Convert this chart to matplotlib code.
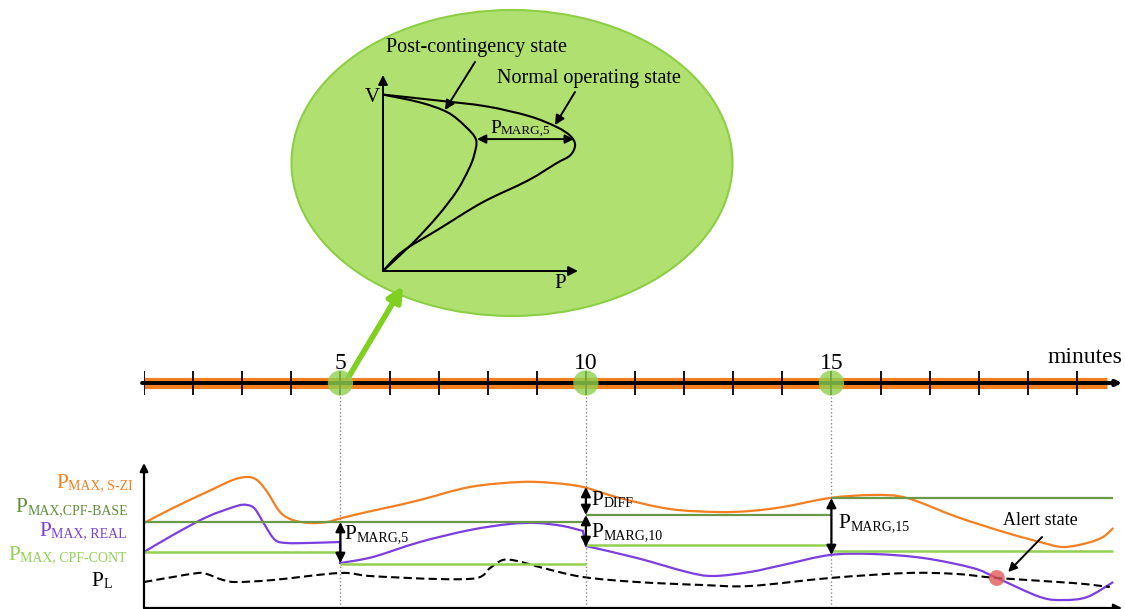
import matplotlib
matplotlib.use('Agg')
import matplotlib.pyplot as plt
from matplotlib.patches import Ellipse, PathPatch
from matplotlib.path import Path

plt.rcParams['font.family'] = ['Liberation Serif', 'DejaVu Serif']

W, H = 1125, 609
fig = plt.figure(figsize=(W / 100, H / 100), dpi=100)

ORANGE = '#f47f20'
PURPLE = '#7b3fe0'
DARK_GREEN = '#6a9a48'
LIGHT_GREEN = '#92d050'
BLOB_GREEN = '#b0e070'


def px_axes(x0, y0, x1, y1):
    # axes box given in picture pixels, top-left origin
    a = fig.add_axes([x0 / W, 1 - y1 / H, (x1 - x0) / W, (y1 - y0) / H])
    a.axis('off')
    return a


# ---------------- data ----------------
# P-V curves of the inset (P and V scaled 0..1 to the inset axes)
pv_post_p = [0, 0.19, 0.33, 0.42, 0.477, 0.467, 0.44, 0.38, 0.28, 0.15, 0]
pv_post_v = [0.90, 0.86, 0.81, 0.74, 0.67, 0.59, 0.52, 0.41, 0.28, 0.14, 0]
pv_norm_p = [0, 0.28, 0.53, 0.75, 0.89, 0.96, 0.985, 0.96, 0.89, 0.74, 0.51, 0.28, 0.10, 0]
pv_norm_v = [0.90, 0.87, 0.84, 0.79, 0.735, 0.69, 0.643, 0.59, 0.55, 0.46, 0.35, 0.21, 0.10, 0]

# timeline
minutes = list(range(1, 21))
snapshots = [5, 10, 15]

# bottom chart: time in minutes, power in arbitrary units
t_szi = [1.00, 1.59, 2.28, 2.81, 3.10, 3.30, 3.51, 3.77, 4.03, 4.38, 4.73, 5.03, 5.54, 6.01,
         6.62, 7.64, 8.66, 9.33, 9.94, 10.69, 11.71, 12.67, 13.34, 14.01, 14.97, 15.85,
         16.54, 17.56, 18.58, 19.25, 19.72, 20.21, 20.53, 20.74]
p_szi = [8.5, 10.0, 11.6, 12.8, 13.1, 12.8, 11.6, 9.6, 8.8, 8.5, 8.6, 9.0, 9.6, 10.1,
         10.8, 12.1, 12.6, 12.5, 12.1, 11.0, 9.9, 9.6, 9.7, 10.1, 11.0, 11.3,
         11.0, 9.1, 7.5, 6.6, 6.1, 6.5, 7.1, 8.0]

t_real = [1.00, 1.59, 2.28, 2.89, 3.10, 3.26, 3.46, 3.67, 3.91, 4.32, 5.00, 5.00, 5.66, 6.62,
          7.64, 8.45, 9.00, 9.53, 9.94, 10.00, 11.04, 12.06, 12.59, 13.34, 14.01, 14.97,
          15.85, 16.87, 17.88, 18.37, 19.25, 19.72, 20.21, 20.74]
p_real = [5.6, 7.3, 9.1, 10.2, 10.3, 9.9, 8.3, 6.8, 6.5, 6.5, 6.6, 4.5, 5.1, 6.6,
          7.8, 8.4, 8.5, 8.2, 7.7, 6.2, 5.0, 3.6, 3.2, 3.6, 4.3, 5.3,
          5.4, 5.0, 4.0, 3.0, 1.1, 0.8, 1.1, 2.6]

t_load = [1.00, 1.59, 2.10, 2.28, 2.61, 2.89, 3.63, 4.99, 5.60, 6.97, 7.78, 8.05, 8.31,
          8.60, 9.13, 9.94, 11.04, 12.38, 13.34, 14.97, 16.54, 17.56, 18.37, 19.92, 20.67]
p_load = [2.6, 3.1, 3.5, 3.4, 2.8, 2.6, 2.8, 3.5, 3.2, 2.9, 3.0, 4.0, 4.8,
          4.7, 4.0, 3.1, 2.6, 2.3, 2.2, 3.0, 3.5, 3.4, 3.0, 2.5, 2.1]

seg_t = [1, 5, 10, 15, 20.74]
base_lvl = [8.6, 8.6, 9.3, 11.0]
cont_lvl = [5.6, 4.4, 6.3, 5.7]

alert_t, alert_p = 18.37, 3.0

# margins: (time, from, to)
margins = [(5, 8.6, 4.5), (10, 12.1, 9.3), (10, 9.3, 6.1), (15, 11.0, 5.3)]
margin_labels = [(5.08, 6.9, 'MARG,5'), (10.12, 10.3, 'DIFF'),
                 (10.12, 7.1, 'MARG,10'), (15.15, 8.0, 'MARG,15')]

left_subs = ['MAX, S-ZI', 'MAX,CPF-BASE', 'MAX, REAL', 'MAX, CPF-CONT', 'L']
left_colors = [ORANGE, '#5f9038', PURPLE, LIGHT_GREEN, 'black']


def sub_label(a, x, y, sub, color, fs=15, sfs=9.5, ha='left'):
    if ha == 'left':
        main = a.text(x, y, 'P', ha='left', va='baseline', fontsize=fs, color=color)
        a.annotate(sub, xy=(1, 0), xycoords=main, ha='left', va='bottom',
                   fontsize=sfs, color=color)
    else:
        s = a.text(x, y, sub, ha='right', va='baseline', fontsize=sfs, color=color)
        a.annotate('P', xy=(0, 0), xycoords=s, ha='right', va='bottom',
                   fontsize=fs, color=color)


def smooth(a, xs, ys, **kw):
    # smooth bezier path running through the read points (catmull-rom)
    pts = list(zip(xs, ys))
    n = len(pts)
    verts, codes = [pts[0]], [Path.MOVETO]
    for i in range(n - 1):
        p0, p1 = pts[max(i - 1, 0)], pts[i]
        p2, p3 = pts[i + 1], pts[min(i + 2, n - 1)]
        c1 = (p1[0] + (p2[0] - p0[0]) / 6, p1[1] + (p2[1] - p0[1]) / 6)
        c2 = (p2[0] - (p3[0] - p1[0]) / 6, p2[1] - (p3[1] - p1[1]) / 6)
        verts += [c1, c2, p2]
        codes += [Path.CURVE4] * 3
    a.add_patch(PathPatch(Path(verts, codes), fill=False, **kw))


def smooth_with_jumps(a, xs, ys, **kw):
    # vertical jumps (same time, two values) drawn straight, the rest smooth
    start = 0
    for i in range(1, len(xs) + 1):
        if i == len(xs) or xs[i] - xs[i - 1] < 0.1:
            smooth(a, xs[start:i], ys[start:i], **kw)
            if i < len(xs):
                a.plot(xs[i - 1:i + 1], ys[i - 1:i + 1], color=kw.get('edgecolor'),
                       lw=kw.get('lw'))
            start = i


arrow_kw = dict(color='black', lw=1.4, shrinkA=0, shrinkB=0)

# ---------------- main canvas (pixel layout) ----------------
ax = fig.add_axes([0, 0, 1, 1])
ax.set_xlim(0, W)
ax.set_ylim(H, 0)
ax.axis('off')

ax.add_patch(Ellipse((512, 163), 441, 306, facecolor=BLOB_GREEN, edgecolor='#8ccf45', lw=1.5))

ax.annotate('', xy=(403, 286), xytext=(345, 383),
            arrowprops=dict(arrowstyle='-|>', color='#80d020', lw=4, mutation_scale=22,
                            shrinkA=0, shrinkB=0))

ax.text(477, 52, 'Post-contingency state', ha='center', va='baseline', fontsize=14.5)
ax.text(497, 83, 'Normal operating state', ha='left', va='baseline', fontsize=14.5)
ax.annotate('', xy=(445, 110), xytext=(475, 62),
            arrowprops=dict(arrowstyle='-|>', mutation_scale=14, **arrow_kw))
ax.annotate('', xy=(555, 125), xytext=(575, 92),
            arrowprops=dict(arrowstyle='-|>', mutation_scale=14, **arrow_kw))
ax.text(372, 102, 'V', ha='center', va='baseline', fontsize=15)
ax.text(560, 288, 'P', ha='center', va='baseline', fontsize=15)
sub_label(ax, 490, 133, 'MARG,5', 'black', fs=14, sfs=9.5)

left_right = [133, 128, 127, 127, 112]
left_base = [488, 513, 536, 560, 587]
for sub, c, xr, yb in zip(left_subs, left_colors, left_right, left_base):
    sub_label(ax, xr, yb + 1.5, sub, c, fs=15.5, sfs=10, ha='right')

# ---------------- P-V inset ----------------
ax_pv = px_axes(383, 75, 578, 271)
ax_pv.set_xlim(0, 1)
ax_pv.set_ylim(0, 1)
smooth(ax_pv, pv_post_p, pv_post_v, edgecolor='black', lw=1.5, clip_on=False)
smooth(ax_pv, pv_norm_p, pv_norm_v, edgecolor='black', lw=1.5, clip_on=False)
ax_pv.annotate('', xy=(0, 1.0), xytext=(0, 0),
               arrowprops=dict(arrowstyle='-|>', mutation_scale=14, **arrow_kw))
ax_pv.annotate('', xy=(1.0, 0), xytext=(0, 0),
               arrowprops=dict(arrowstyle='-|>', mutation_scale=14, **arrow_kw))
ax_pv.annotate('', xy=(0.979, 0.673), xytext=(0.482, 0.673),
               arrowprops=dict(arrowstyle='<|-|>', mutation_scale=13, **arrow_kw))

# ---------------- timeline ----------------
x_end = 1 + (W - 144) / 49.1
ax_t = px_axes(144, 343, W, 423)
ax_t.set_xlim(1, x_end)
ax_t.set_ylim(-40, 40)
ax_t.plot([1, 20.61], [0, 0], color=ORANGE, lw=8, solid_capstyle='butt')
ax_t.annotate('', xy=(20.92, 0), xytext=(0.96, 0),
              arrowprops=dict(arrowstyle='-|>', color='black', lw=2.8, mutation_scale=8,
                              shrinkA=0, shrinkB=0))
ax_t.vlines(minutes, -12, 12, colors='black', lw=1.3)
ax_t.scatter(snapshots, [0] * len(snapshots), s=330, color='#8fd14f', alpha=0.8,
             edgecolors='none', zorder=5)
for m in snapshots:
    ax_t.text(m, 14, str(m), ha='center', va='baseline', fontsize=17)
ax_t.text(20.92, 20, 'minutes', ha='right', va='baseline', fontsize=17)

# ---------------- bottom chart ----------------
ax_b = px_axes(144, 455, W, 608)
ax_b.set_xlim(1, x_end)
ax_b.set_ylim(0, 15.3)

ax_b.vlines(snapshots, 0, 21.3, colors='#8a8a8a', linestyles=':', lw=1, clip_on=False)

for i in range(len(base_lvl)):
    ax_b.hlines(base_lvl[i], seg_t[i], seg_t[i + 1], colors=DARK_GREEN, lw=1.6)
    ax_b.hlines(cont_lvl[i], seg_t[i], seg_t[i + 1], colors=LIGHT_GREEN, lw=1.8)

smooth(ax_b, t_szi, p_szi, edgecolor=ORANGE, lw=1.6)
smooth_with_jumps(ax_b, t_real, p_real, edgecolor=PURPLE, lw=1.6)
smooth(ax_b, t_load, p_load, edgecolor='black', lw=1.5, linestyle=(0, (4, 2)))
ax_b.scatter([alert_t], [alert_p], s=130, color='#e05a5a', alpha=0.8, edgecolors='none', zorder=6)

for t, p0, p1 in margins:
    ax_b.annotate('', xy=(t, p1), xytext=(t, p0),
                  arrowprops=dict(arrowstyle='<|-|>', mutation_scale=14, color='black',
                                  lw=1.6, shrinkA=0, shrinkB=0), zorder=7)
for t, p, sub in margin_labels:
    sub_label(ax_b, t, p, sub, 'black', fs=15.5, sfs=10)

ax_b.text(19.25, 8.3, 'Alert state', ha='center', va='baseline', fontsize=13)
ax_b.annotate('', xy=(18.6, 3.6), xytext=(19.29, 7.1),
              arrowprops=dict(arrowstyle='-|>', mutation_scale=13, **arrow_kw))

# axes arrows
ax_b.annotate('', xy=(1, 14.5), xytext=(1, 0),
              arrowprops=dict(arrowstyle='-|>', mutation_scale=12, color='black', lw=1.6,
                              shrinkA=0, shrinkB=0))
ax_b.annotate('', xy=(20.92, 0), xytext=(1, 0),
              arrowprops=dict(arrowstyle='-|>', mutation_scale=12, color='black', lw=1.6,
                              shrinkA=0, shrinkB=0))

fig.savefig('out.png', dpi=100, facecolor='white')
